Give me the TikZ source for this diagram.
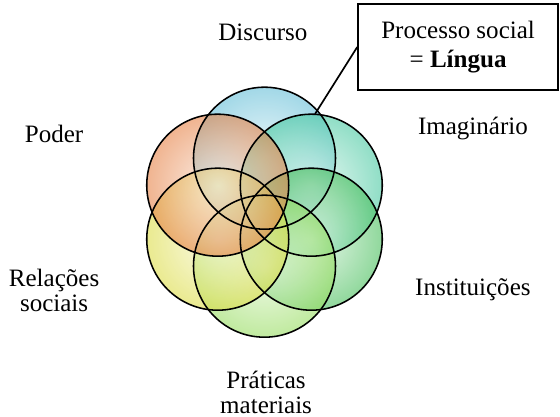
\documentclass[tikz,border=0pt]{standalone}
\usepackage{fontspec}
\setmainfont{Liberation Serif}
\usetikzlibrary{positioning}

\definecolor{discC}{RGB}{100,190,215}
\definecolor{imagC}{RGB}{70,200,160}
\definecolor{instC}{RGB}{70,190,90}
\definecolor{pratC}{RGB}{150,220,95}
\definecolor{relC}{RGB}{220,220,70}
\definecolor{poderC}{RGB}{230,130,70}

\begin{document}
\begin{tikzpicture}[
  bubble/.style={circle, minimum size=3.55cm, inner sep=0pt, shade, inner color=#1!20, outer color=#1, fill opacity=0.6},
  rim/.style={circle, draw, line width=1.1pt, minimum size=3.55cm, inner sep=0pt},
  lbl/.style={align=center, font=\fontsize{17.8}{18}\selectfont},
  callout/.style={draw, line width=1.2pt, minimum width=5cm, minimum height=2.15cm, align=center, font=\fontsize{17.8}{21}\selectfont}]
\useasboundingbox (-6.6125,-5.12) rectangle (7.3875,5.305);
% the six circles
\node[bubble=discC] (disc) at (90:1.35) {};
\node[bubble=imagC] (imag) at (30:1.35) {};
\node[bubble=instC] (inst) at (-30:1.35) {};
\node[bubble=pratC] (prat) at (-90:1.35) {};
\node[bubble=relC] (rel) at (210:1.35) {};
\node[bubble=poderC] (poder) at (150:1.35) {};
\foreach \c in {disc,imag,inst,prat,rel,poder}
  \node[rim] at (\c) {};
% labels
\node[lbl] (discTxt) at (-0.04,4.5) {Discurso};
\node[lbl] (poderTxt) at (-5.26,1.95) {Poder};
\node[lbl] (imagTxt) at (5.21,2.08) {Imaginário};
\node[lbl] (relTxt) at (-5.26,-1.95) {Relações\\sociais};
\node[lbl] (instTxt) at (5.21,-1.95) {Instituições};
\node[lbl] (pratTxt) at (0.04,-4.5) {Práticas\\materiais};
% callout
\node[callout, fill=white] (proc) at (4.84,4.13) {Processo social\\= \textbf{Língua}};
\draw[line width=1.2pt] (proc.west) -- (imag.87);
\end{tikzpicture}
\end{document}
